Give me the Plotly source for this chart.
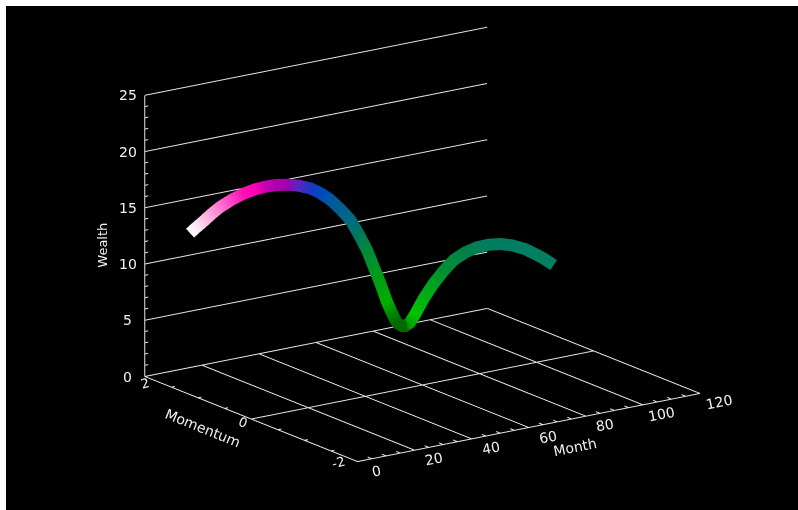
import plotly.graph_objects as go

# Curve values
month = [0, 2.2, 4.4, 7.2, 9.9, 13.8, 17.6, 21.5, 25.3, 28.6, 31.9, 35.8, 39.7, 43, 46.3, 49.6, 52.9, 55.6, 58.4, 60.6,
         62.8, 65, 66.7, 68.3, 70.5, 72.5, 74.4, 77.1, 80.4, 83.7, 87, 90.9, 94.7, 98.6, 102.5, 106.3, 110.2, 113.5, 116.8, 120]
momentum = [1.15, 1.143, 1.135, 1.126, 1.117, 1.104, 1.091, 1.079, 1.066, 1.055, 1.044, 1.031, 1.018, 1.007, 0.996, 0.985, 0.974, 0.965, 0.956, 0.948,
            0.941, 0.934, 0.928, 0.923, 0.915, 0.909, 0.902, 0.893, 0.882, 0.871, 0.86, 0.848, 0.835, 0.822, 0.809, 0.796, 0.783, 0.772, 0.761, 0.75]
wealth = [14.35, 14.79, 15.2, 15.76, 16.23, 16.72, 17.08, 17.3, 17.39, 17.37, 17.25, 16.99, 16.58, 16.02, 15.28, 14.3, 13.2, 11.83, 10.28, 8.69,
          7.11, 5.37, 4.26, 3.35, 2.9, 3.16, 3.92, 5.13, 6.33, 7.31, 8.12, 8.63, 8.91, 8.97, 8.86, 8.57, 8.1, 7.54, 6.92, 6.21]
curve_colors = ["#ffffff", "#ffe8f4", "#ffc8e8", "#ffa0dc", "#ff78d0", "#ff40c4", "#ff10b8", "#ff00b4", "#c000b0", "#b000b0",
                "#a000b0", "#5828c0", "#1c38c0", "#0048c0", "#0058a0", "#006090", "#006c80", "#007860", "#008a38", "#009428",
                "#00a010", "#00b000", "#008800", "#006c00", "#006800", "#00a800", "#00c400", "#00b010", "#00a020", "#009030",
                "#008a40", "#008048", "#008058", "#007c60", "#007c60", "#007c60", "#008060", "#008060", "#008060", "#008060"]

month_ticks = [0, 20, 40, 60, 80, 100, 120]
momentum_ticks = [-2, 0, 2]
wealth_ticks = [0, 5, 10, 15, 20, 25]
month_minor = [5, 10, 15, 25, 30, 35, 45, 50, 55, 65, 70, 75, 85, 90, 95, 105, 110, 115]
momentum_minor = [-1.5, -1, -0.5, 0.5, 1, 1.5]
wealth_minor = [1, 2, 3, 4, 6, 7, 8, 9, 11, 12, 13, 14, 16, 17, 18, 19, 21, 22, 23, 24]

LINE = "#e6e6e6"
xs, ys, zs = [], [], []


def seg(a, b):
    xs.extend([a[0], b[0], None])
    ys.extend([a[1], b[1], None])
    zs.extend([a[2], b[2], None])


for w in wealth_ticks:
    seg((0, 2, w), (120, 2, w))
for m in month_ticks:
    seg((m, 2, 0), (m, -2, 0))
for p in momentum_ticks:
    seg((0, p, 0), (120, p, 0))
seg((0, 2, 0), (0, 2, 25))
for w in wealth_minor:
    seg((0, 2, w), (1.2, 2, w))
for m in month_minor:
    seg((m, -2, 0), (m, -1.92, 0))
for p in momentum_minor:
    seg((0, p, 0), (1.2, p, 0))

fig = go.Figure()
fig.add_trace(go.Scatter3d(x=xs, y=ys, z=zs, mode="lines", line=dict(color=LINE, width=2),
                           hoverinfo="skip", showlegend=False))
fig.add_trace(go.Scatter3d(x=month, y=momentum, z=wealth, mode="lines",
                           line=dict(color=curve_colors, width=24), hoverinfo="skip", showlegend=False))

font = dict(family="DejaVu Sans", size=14, color="#f0f0f0")
font_small = dict(family="DejaVu Sans", size=13, color="#f0f0f0")
ann = []
for w in wealth_ticks:
    ann.append(dict(x=0, y=2, z=w, text=str(w), showarrow=False, xshift=-17, font=font))
for m in month_ticks:
    ann.append(dict(x=m, y=-2, z=0, text=str(m), showarrow=False, xshift=19, yshift=-9, textangle=-11, font=font))
mom_shift = {-2: (-19, -1), 0: (-8, -3), 2: (0, -7)}
for p in momentum_ticks:
    ann.append(dict(x=0, y=p, z=0, text=str(p), showarrow=False, xshift=mom_shift[p][0], yshift=mom_shift[p][1],
                    textangle=22 if p == 0 else -15, font=font_small))
ann.append(dict(x=0, y=2, z=11.7, text="Wealth", showarrow=False, xshift=-42, textangle=-90, font=font_small))
ann.append(dict(x=70, y=-2, z=0, text="Month", showarrow=False, xshift=18, yshift=-25, textangle=-11, font=font))
ann.append(dict(x=0, y=1, z=0, text="Momentum", showarrow=False, xshift=5, yshift=-30, textangle=22, font=font))

axis = dict(visible=False, showgrid=False, zeroline=False, showticklabels=False, showbackground=False, showspikes=False)
d = 2.0
center = dict(x=-0.075, y=0.0342, z=-0.0518)
eye = dict(x=center["x"] - 0.553 * d, y=center["y"] - 0.784 * d, z=center["z"] + 0.282 * d)
fig.update_layout(
    paper_bgcolor="white",
    margin=dict(l=0, r=0, t=0, b=0),
    width=798, height=510,
    scene=dict(
        domain=dict(x=[6 / 798, 1], y=[0, 1 - 6 / 510]),
        bgcolor="black",
        xaxis=dict(axis, range=[0, 120]),
        yaxis=dict(axis, range=[-2, 2]),
        zaxis=dict(axis, range=[0, 25]),
        aspectmode="manual",
        aspectratio=dict(x=1.663, y=1.465, z=1.163),
        camera=dict(eye=eye, up=dict(x=0, y=0, z=1), center=center,
                    projection=dict(type="orthographic")),
        annotations=ann,
    ),
)
fig.write_html("out.html", config=dict(displayModeBar=False),
               post_script="document.body.style.margin='0';document.documentElement.style.overflow='hidden';")
